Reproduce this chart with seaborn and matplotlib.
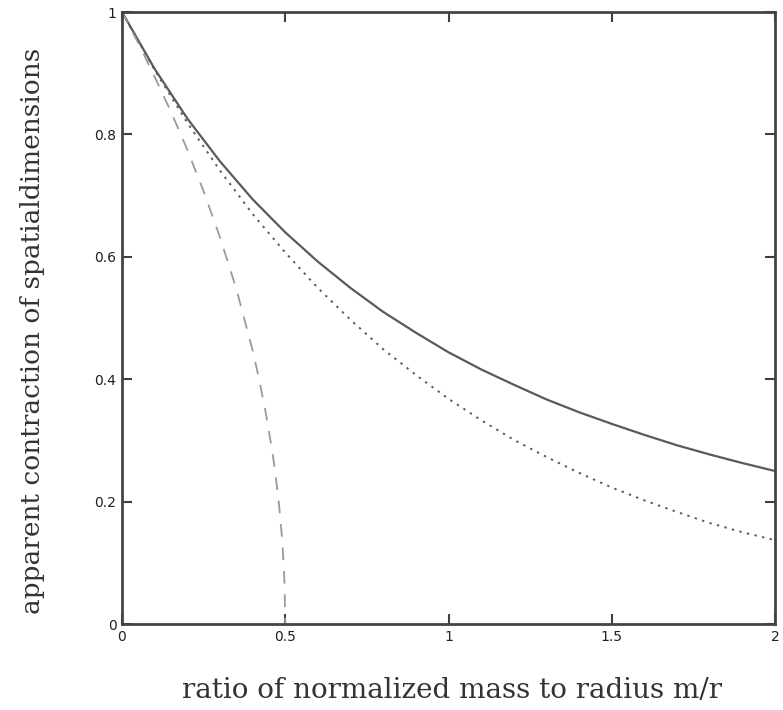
import matplotlib
matplotlib.use("Agg")
import matplotlib.pyplot as plt
import seaborn as sns
import pandas as pd

# ---- data ----
x_solid = [0.0, 0.1, 0.2, 0.3, 0.4, 0.5, 0.6, 0.7, 0.8, 0.9, 1.0,
           1.1, 1.2, 1.3, 1.4, 1.5, 1.6, 1.7, 1.8, 1.9, 2.0]
y_solid = [1.0, 0.907, 0.826, 0.756, 0.694, 0.640, 0.592, 0.549, 0.510, 0.476, 0.444,
           0.416, 0.391, 0.367, 0.346, 0.327, 0.309, 0.292, 0.277, 0.263, 0.250]
x_dotted = x_solid
y_dotted = [1.0, 0.905, 0.819, 0.741, 0.670, 0.607, 0.549, 0.497, 0.449, 0.407, 0.368,
            0.333, 0.301, 0.273, 0.247, 0.223, 0.202, 0.183, 0.165, 0.150, 0.137]
x_dashed = [0.0, 0.05, 0.1, 0.15, 0.2, 0.25, 0.3, 0.35, 0.4, 0.42, 0.44, 0.46,
            0.47, 0.48, 0.49, 0.495, 0.498, 0.5]
y_dashed = [1.0, 0.949, 0.894, 0.837, 0.775, 0.707, 0.632, 0.548, 0.447, 0.400,
            0.346, 0.283, 0.245, 0.200, 0.141, 0.100, 0.063, 0.0]
x_ticks = [0, 0.5, 1, 1.5, 2]
x_ticklabels = ["0", "0.5", "1", "1.5", "2"]
y_ticks = [0, 0.2, 0.4, 0.6, 0.8, 1]
y_ticklabels = ["0", "0.2", "0.4", "0.6", "0.8", "1"]
xlabel = "ratio of normalized mass to radius m/r"
ylabel = "apparent contraction of spatialdimensions"

sns.set_theme(style="white")
plt.rcParams["font.family"] = ["DejaVu Sans"]

fig = plt.figure(figsize=(7.83, 7.10), dpi=100)
ax = fig.add_axes([122 / 783, 86 / 710, 653 / 783, 612 / 710])

df_s = pd.DataFrame({"x": x_solid, "y": y_solid})
df_d = pd.DataFrame({"x": x_dotted, "y": y_dotted})
df_l = pd.DataFrame({"x": x_dashed, "y": y_dashed})

sns.lineplot(data=df_s, x="x", y="y", ax=ax, color="#5a5a5a", linewidth=1.6)
sns.lineplot(data=df_d, x="x", y="y", ax=ax, color="#5a5a5a", linewidth=1.4,
             linestyle=(0, (1.2, 2.8)))
sns.lineplot(data=df_l, x="x", y="y", ax=ax, color="#9a9a9a", linewidth=1.3,
             linestyle=(0, (7, 6)))

ax.set_xlim(0, 2)
ax.set_ylim(0, 1)
ax.set_xticks(x_ticks)
ax.set_xticklabels(x_ticklabels)
ax.set_yticks(y_ticks)
ax.set_yticklabels(y_ticklabels)
ax.set_xlabel("")
ax.set_ylabel("")
ax.tick_params(direction="in", length=7, width=1.5, color="#404040",
               top=True, right=True, bottom=True, left=True,
               labelsize=10, labelcolor="#202020", pad=4)
for s in ax.spines.values():
    s.set_color("#444444")
    s.set_linewidth(2)
    s.set_visible(True)

fig.text(452 / 783, 1 - 690 / 710, xlabel, ha="center", va="center",
         family="DejaVu Serif", fontsize=20, color="#333333")
fig.text(33 / 783, 1 - 331 / 710, ylabel, ha="center", va="center", rotation=90,
         family="DejaVu Serif", fontsize=19, color="#333333")

fig.savefig("out.png", dpi=100, facecolor="white")
